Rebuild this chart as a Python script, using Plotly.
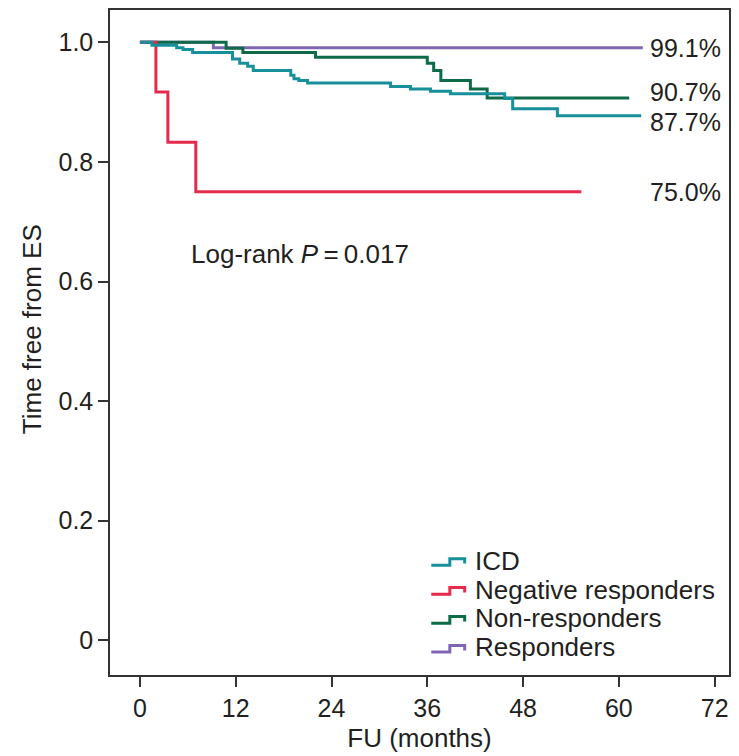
import plotly.graph_objects as go

# Kaplan-Meier step curves: event times (months) and survival after each step
groups = ["ICD", "Negative responders", "Non-responders", "Responders"]

icd_t = [0, 1.5, 4.6, 5.4, 6.6, 11.6, 12.5, 13.5, 14.2, 18.9, 19.3, 19.9, 21.0,
         31.4, 33.9, 36.4, 38.9, 45.7, 46.7, 52.3, 62.8]
icd_s = [1.0, 0.995, 0.991, 0.988, 0.983, 0.972, 0.965, 0.960, 0.953, 0.945,
         0.939, 0.936, 0.932, 0.926, 0.922, 0.918, 0.914, 0.906, 0.889, 0.877, 0.877]

neg_t = [0, 2.0, 3.5, 7.0, 55.3]
neg_s = [1.0, 0.917, 0.833, 0.750, 0.750]

non_t = [0, 10.8, 12.9, 22.0, 36.0, 36.8, 37.7, 41.4, 43.5, 61.3]
non_s = [1.0, 0.990, 0.983, 0.975, 0.965, 0.953, 0.936, 0.922, 0.907, 0.907]

resp_t = [0, 9.2, 63.0]
resp_s = [1.0, 0.991, 0.991]

end_labels = ["87.7%", "75.0%", "90.7%", "99.1%"]

x_ticks = [0, 12, 24, 36, 48, 60, 72]
y_ticks = [0, 0.2, 0.4, 0.6, 0.8, 1.0]
y_tick_text = ["0", "0.2", "0.4", "0.6", "0.8", "1.0"]

colors = ["#17909b", "#e52a4b", "#0f6a47", "#8067b3"]
series = [(icd_t, icd_s), (neg_t, neg_s), (non_t, non_s), (resp_t, resp_s)]

FONT = "Liberation Sans, Arial, sans-serif"
TXT = "#231f20"
TEXT_SIZE = 26
TICK_SIZE = 25

fig = go.Figure()
# draw in reverse so responders sit on top
for name, (t, s), c in list(zip(groups, series, colors))[::-1]:
    fig.add_trace(go.Scatter(
        x=t, y=s, mode="lines", name=name, showlegend=False,
        line=dict(color=c, width=3, shape="hv"),
    ))

# end-of-curve percentage labels (nudged vertically to keep them apart)
label_nudge = [-0.011, 0.0, 0.010, 0.0]
for (t, s), lab, dy in zip(series, end_labels, label_nudge):
    fig.add_annotation(x=63.6, y=s[-1] + dy, text=lab, showarrow=False,
                       xanchor="left", yanchor="middle",
                       font=dict(family=FONT, size=25, color=TXT))

fig.add_annotation(x=6.2, y=0.646, xanchor="left", yanchor="middle",
                   text="Log-rank <i>P</i>\u2009=\u20090.017", showarrow=False,
                   font=dict(family=FONT, size=TEXT_SIZE, color=TXT))

# legend: small step-shaped keys with labels, stacked in the lower right
key_x0, key_x1, key_x2 = 0.519, 0.549, 0.573   # paper x of key corners
text_x = 0.586
row_y0 = 0.175                                  # paper y of first row
row_step = 0.0435
rise = 0.010
for i, (name, c) in enumerate(zip(groups, colors)):
    yb = row_y0 - i * row_step
    fig.add_shape(type="path", xref="paper", yref="paper",
                  path=(f"M {key_x0} {yb - rise} L {key_x1} {yb - rise} "
                        f"L {key_x1} {yb} L {key_x2} {yb} L {key_x2} {yb - rise * 0.75}"),
                  line=dict(color=c, width=3))
    fig.add_annotation(x=text_x, y=yb - rise * 0.3, xref="paper", yref="paper",
                       xanchor="left", yanchor="middle", text=name, showarrow=False,
                       font=dict(family=FONT, size=TEXT_SIZE, color=TXT))

# y-axis title
fig.add_annotation(x=-0.126, y=0.52, xref="paper", yref="paper",
                   text="Time free from ES", textangle=-90, showarrow=False,
                   xanchor="center", yanchor="middle",
                   font=dict(family=FONT, size=TEXT_SIZE, color=TXT))

axis_common = dict(showline=True, linecolor="#333333", linewidth=1.5, mirror=True,
                   ticks="outside", ticklen=10, tickwidth=1.5, tickcolor="#333333",
                   showgrid=False, zeroline=False,
                   tickfont=dict(family=FONT, size=TICK_SIZE, color=TXT))

fig.update_layout(
    width=739, height=756,
    margin=dict(l=110, r=8, t=8, b=78),
    paper_bgcolor="white", plot_bgcolor="white",
    showlegend=False,
    xaxis=dict(range=[-3.75, 73.8], tickvals=x_ticks,
               title=dict(text="FU (months)", standoff=8,
                          font=dict(family=FONT, size=TEXT_SIZE, color=TXT)),
               **axis_common),
    yaxis=dict(range=[-0.058, 1.054], tickvals=y_ticks, ticktext=y_tick_text,
               **axis_common),
)

fig.write_html("out.html")
